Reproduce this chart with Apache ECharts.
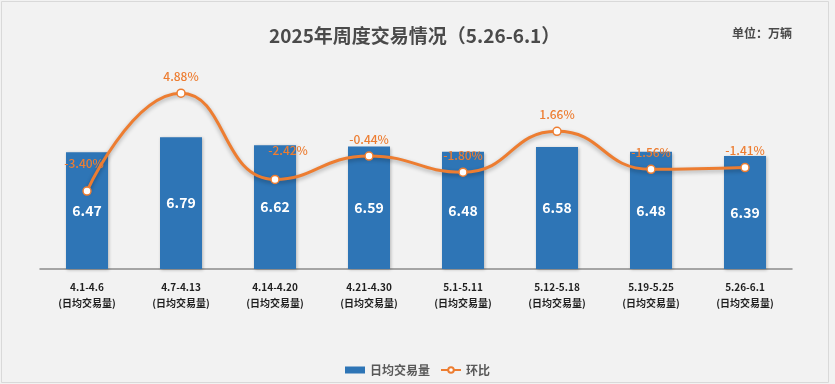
<!DOCTYPE html>
<html>
<head>
<meta charset="utf-8">
<script src="https://cdn.jsdelivr.net/npm/echarts@6/dist/echarts.min.js"></script>
<style>
html,body{margin:0;padding:0;background:#f2f2f2;}
#c{width:835px;height:384px;}
</style>
</head>
<body>
<div id="c"></div>
<script>
const categories = ['4.1-4.6','4.7-4.13','4.14-4.20','4.21-4.30','5.1-5.11','5.12-5.18','5.19-5.25','5.26-6.1'];
const dailyVolume = [6.47, 6.79, 6.62, 6.59, 6.48, 6.58, 6.48, 6.39];
const momChange = [-3.40, 4.88, -2.42, -0.44, -1.80, 1.66, -1.56, -1.41];
const labelOffsets = {0: [-3, -11], 2: [13, -12]};

const FONT = '"Noto Sans CJK SC", "Noto Sans", sans-serif';
const chart = echarts.init(document.getElementById('c'), null, {renderer: 'canvas'});

const lineData = momChange.map((v, i) => {
  const item = {value: v};
  if (labelOffsets[i]) item.label = {offset: labelOffsets[i]};
  return item;
});

chart.setOption({
  backgroundColor: '#f2f2f2',
  animation: false,
  graphic: [{
    type: 'rect', shape: {x: 1.5, y: 1.5, width: 827, height: 381},
    style: {fill: 'none', stroke: '#d9d9d9', lineWidth: 1}, silent: true, z: -1
  }],
  title: [{
    text: '2025年周度交易情况（5.26-6.1）',
    left: 264, top: 21,
    textStyle: {fontFamily: FONT, fontSize: 19, fontWeight: 'bold', color: '#4a4a4a'}
  }, {
    text: '单位：万辆',
    left: 727, top: 22,
    textStyle: {fontFamily: FONT, fontSize: 12, fontWeight: 'bold', color: '#4a4a4a'}
  }],
  legend: {
    left: 'center', top: 359,
    itemGap: 10,
    textStyle: {fontFamily: FONT, fontSize: 12, fontWeight: 'bold', color: '#595959'},
    data: [
      {name: '日均交易量', icon: 'rect', itemStyle: {color: '#2E75B6'}},
      {name: '环比'}
    ],
    itemWidth: 20, itemHeight: 7
  },
  grid: {left: 40, right: 43, top: 80, bottom: 115, containLabel: false},
  xAxis: {
    type: 'category', data: categories,
    axisLine: {onZero: false, lineStyle: {color: '#8c8c8c', width: 1.5}},
    axisTick: {show: false},
    axisLabel: {
      interval: 0, margin: 10,
      fontFamily: FONT, fontSize: 10, fontWeight: 'bold', color: '#1f1f1f', lineHeight: 16,
      formatter: v => v + '\n(日均交易量)'
    }
  },
  yAxis: [{
    type: 'value', min: 4, max: 8, show: false, splitLine: {show: false}
  }, {
    type: 'value', min: -10, max: 6, show: false, splitLine: {show: false}
  }],
  series: [{
    name: '日均交易量', type: 'bar', data: dailyVolume, barWidth: 42,
    itemStyle: {color: '#2E75B6', shadowColor: 'rgba(0,0,0,0.25)', shadowBlur: 3, shadowOffsetX: 1, shadowOffsetY: 1},
    label: {show: true, position: 'inside', fontFamily: FONT, fontSize: 14, fontWeight: 'bold', color: '#ffffff',
      formatter: p => p.value.toFixed(2)}
  }, {
    name: '环比', type: 'line', yAxisIndex: 1, data: lineData, smooth: 0.5,
    symbol: 'circle', symbolSize: 8,
    lineStyle: {color: '#ED7D31', width: 3, shadowColor: 'rgba(0,0,0,0.3)', shadowBlur: 4, shadowOffsetY: 2},
    itemStyle: {color: '#ffffff', borderColor: '#ED7D31', borderWidth: 1.5},
    label: {show: true, position: 'top', distance: 6, fontFamily: FONT, fontSize: 12, fontWeight: 500, color: '#ED7D31',
      formatter: p => p.value.toFixed(2) + '%'},
    z: 5
  }]
});
</script>
</body>
</html>
